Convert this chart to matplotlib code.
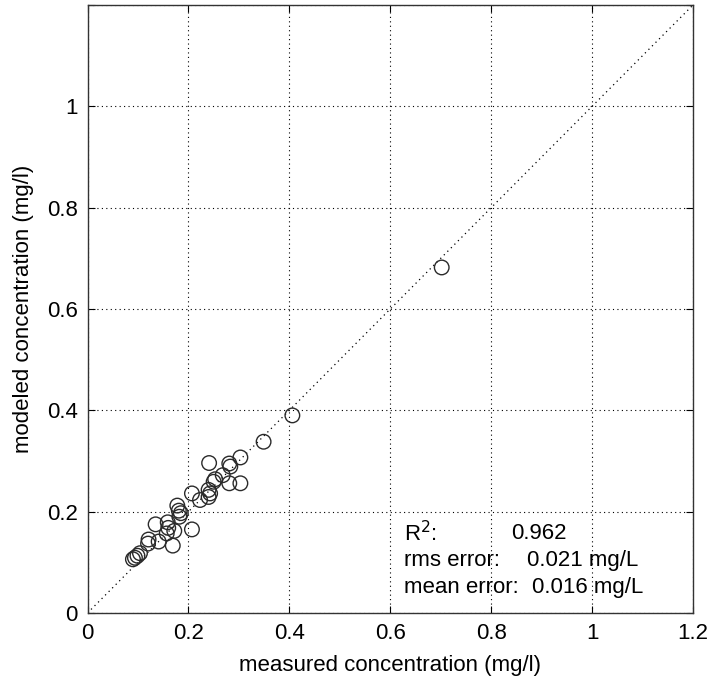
import matplotlib
matplotlib.use("Agg")
import matplotlib.pyplot as plt
import numpy as np

plt.rcParams['font.family'] = ['Liberation Sans', 'DejaVu Sans']

measured = [0.090, 0.094, 0.099, 0.104, 0.121, 0.120, 0.141, 0.135, 0.159, 0.160,
            0.157, 0.172, 0.169, 0.178, 0.181, 0.185, 0.182, 0.207, 0.207, 0.223,
            0.240, 0.243, 0.240, 0.250, 0.253, 0.268, 0.281, 0.283, 0.281, 0.303,
            0.241, 0.303, 0.349, 0.406, 0.702]
modeled = [0.106, 0.109, 0.113, 0.118, 0.145, 0.137, 0.141, 0.175, 0.179, 0.168,
           0.157, 0.162, 0.133, 0.212, 0.202, 0.197, 0.190, 0.165, 0.236, 0.223,
           0.243, 0.236, 0.229, 0.259, 0.264, 0.272, 0.295, 0.289, 0.256, 0.256,
           0.296, 0.307, 0.338, 0.390, 0.682]

ticks = [0, 0.2, 0.4, 0.6, 0.8, 1.0, 1.2]
xtick_labels = ['0', '0.2', '0.4', '0.6', '0.8', '1', '1.2']
ytick_labels = ['0', '0.2', '0.4', '0.6', '0.8', '1', '']

stat_labels = ['R$^2$:', 'rms error:', 'mean error:']
stat_values = ['0.962', '0.021 mg/L', '0.016 mg/L']

fig = plt.figure(figsize=(7.12, 6.81), dpi=100)
ax = fig.add_axes([87.5/712, 68/681, 605.5/712, 608/681])

ax.plot([0, 1.2], [0, 1.2], linestyle=(0, (1, 3)), color='black', linewidth=0.9, zorder=1)
ax.scatter(measured, modeled, s=110, facecolors='none', edgecolors='#2a2a2a',
           linewidths=1.0, zorder=3)

ax.set_xlim(0, 1.2)
ax.set_ylim(0, 1.2)
ax.set_xticks(ticks)
ax.set_xticklabels(xtick_labels)
ax.set_yticks(ticks)
ax.set_yticklabels(ytick_labels)
ax.grid(True, linestyle=(0, (1, 3)), color='black', linewidth=0.8)
ax.tick_params(direction='in', top=True, right=True, length=5, labelsize=16, pad=7)
for s in ax.spines.values():
    s.set_color('#333333')
    s.set_linewidth(1.0)

ax.set_xlabel('measured concentration (mg/l)', fontsize=16, labelpad=8)
ax.set_ylabel('modeled concentration (mg/l)', fontsize=16, labelpad=9)

rows_y = [0.156, 0.103, 0.050]
val_x = [0.839, 0.871, 0.881]
for lab, val, yy, vx in zip(stat_labels, stat_values, rows_y, val_x):
    ax.text(0.627, yy, lab, fontsize=16, va='center', ha='left')
    ax.text(vx, yy, val, fontsize=16, va='center', ha='left')

fig.savefig('out.png', dpi=100)
